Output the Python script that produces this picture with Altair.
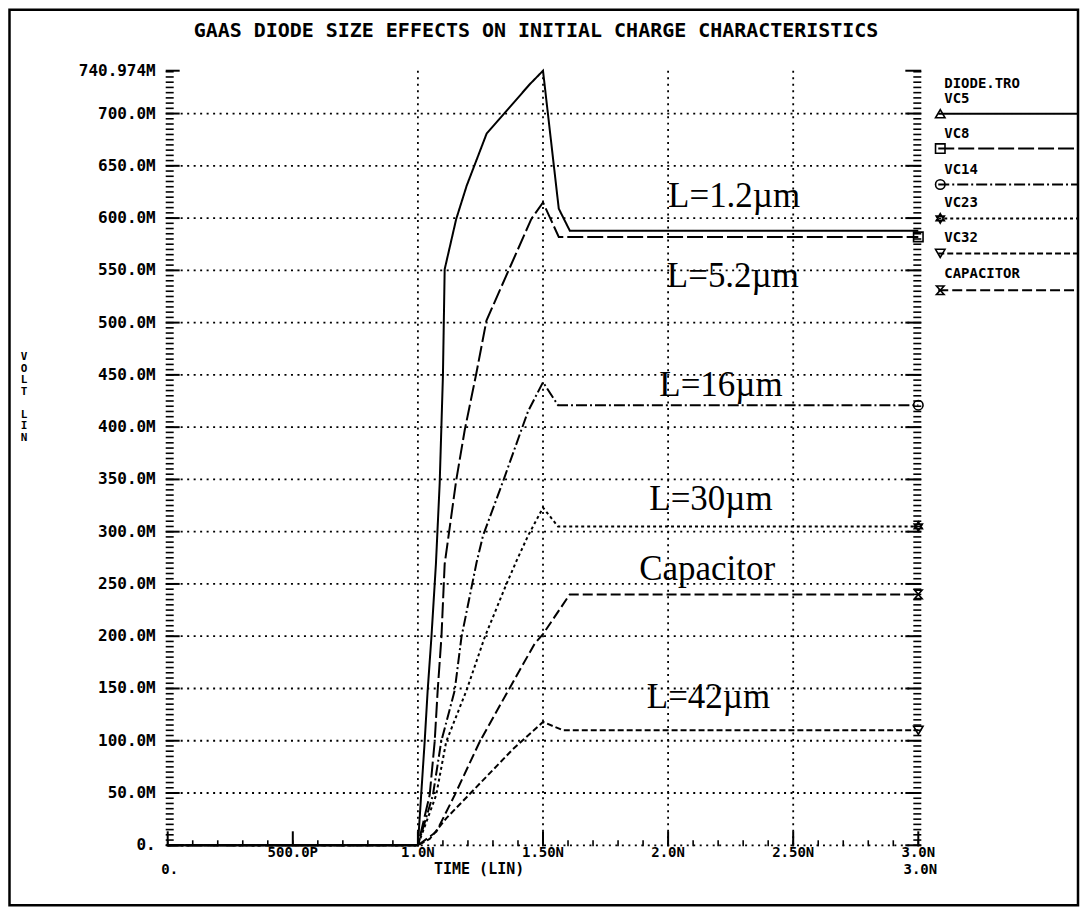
import altair as alt
import pandas as pd

# ---------------- data (time in ns, voltage in mV) ----------------
series = ["VC5", "VC8", "VC14", "VC23", "VC32", "CAPACITOR"]

t_vc5 = [0.0, 1.0, 1.013, 1.027, 1.039, 1.054, 1.072, 1.087, 1.1, 1.107, 1.153, 1.195, 1.275, 1.447, 1.5, 1.563, 1.607, 3.0]
v_vc5 = [0, 0, 48, 99, 148, 199, 269, 346, 449, 551, 599, 631, 681, 728, 740.974, 609, 588, 588]

t_vc8 = [0.0, 1.0, 1.047, 1.067, 1.079, 1.094, 1.107, 1.153, 1.187, 1.234, 1.274, 1.453, 1.5, 1.563, 3.0]
v_vc8 = [0, 0, 48, 99, 148, 199, 269, 349, 397, 452, 502, 599, 615, 582, 582]

t_vc14 = [0.0, 1.0, 1.06, 1.093, 1.147, 1.174, 1.234, 1.26, 1.34, 1.413, 1.44, 1.5, 1.56, 3.0]
v_vc14 = [0, 0, 48, 99, 148, 199, 270, 296, 348, 397, 415, 443, 421, 421]

t_vc23 = [0.0, 1.0, 1.073, 1.113, 1.194, 1.267, 1.354, 1.394, 1.44, 1.5, 1.56, 3.0]
v_vc23 = [0, 0, 48, 99, 148, 199, 250, 272, 296, 323, 305, 305]

t_vc32 = [0.0, 1.0, 1.047, 1.114, 1.207, 1.38, 1.5, 1.58, 3.0]
v_vc32 = [0, 0, 6, 26, 49, 92, 118, 110, 110]

t_cap = [0.0, 1.0, 1.074, 1.147, 1.247, 1.354, 1.467, 1.5, 1.607, 3.0]
v_cap = [0, 0, 13, 48, 99, 145, 193, 202, 240, 240]

y_tick_vals = [0, 50, 100, 150, 200, 250, 300, 350, 400, 450, 500, 550, 600, 650, 700, 740.974]
y_tick_labels = ["0.", "50.0M", "100.0M", "150.0M", "200.0M", "250.0M", "300.0M", "350.0M",
                 "400.0M", "450.0M", "500.0M", "550.0M", "600.0M", "650.0M", "700.0M", "740.974M"]
x_tick_vals = [0.5, 1.0, 1.5, 2.0, 2.5, 3.0]
x_tick_labels = ["500.0P", "1.0N", "1.50N", "2.0N", "2.50N", "3.0N"]
x_tick2_vals = [0.0, 3.0]
x_tick2_labels = ["0.", "3.0N"]
x_grid_vals = [1.0, 1.5, 2.0, 2.5]
y_grid_vals = [0, 50, 100, 150, 200, 250, 300, 350, 400, 450, 500, 550, 600, 650, 700]

ann_text = ["L=1.2\u00b5m", "L=5.2\u00b5m", "L=16\u00b5m", "L=30\u00b5m", "Capacitor", "L=42\u00b5m"]
ann_t = [2.0, 1.995, 1.965, 1.925, 1.885, 1.915]
ann_v = [611, 534, 430, 321, 254, 131]

title_text = "GAAS DIODE SIZE EFFECTS ON INITIAL CHARGE CHARACTERISTICS"
xlabel_text = "TIME (LIN)"
ylabel_letters = ["V", "O", "L", "T", "L", "I", "N"]
ylabel_rows = [0, 1, 2, 3, 5, 6, 7]
legend_head = "DIODE.TRO"

# ---------------- styles ----------------
W, H = 752, 776
MONO = "DejaVu Sans Mono"
dashes = [[1, 0], [16, 4], [11, 3, 2, 3], [3, 3], [6, 3], [10, 4]]
star = "M0,-1L0.87,0.5L-0.87,0.5ZM0,1L0.87,-0.5L-0.87,-0.5Z"
hourglass = "M-0.8,-0.9L0.8,-0.9L-0.8,0.9L0.8,0.9Z"
shapes = ["triangle-up", "square", "circle", star, "triangle-down", hourglass]

xs = alt.Scale(domain=[0, 3], nice=False, zero=False)
ys = alt.Scale(domain=[0, 740.974], nice=False)
dash_scale = alt.Scale(domain=series, range=dashes)
shape_scale = alt.Scale(domain=series, range=shapes)

# ---------------- frames ----------------
all_t = [t_vc5, t_vc8, t_vc14, t_vc23, t_vc32, t_cap]
all_v = [v_vc5, v_vc8, v_vc14, v_vc23, v_vc32, v_cap]
rows = []
for s, ts, vs in zip(series, all_t, all_v):
    for i, (t, v) in enumerate(zip(ts, vs)):
        rows.append({"series": s, "t": t, "v": v, "i": i})
curves = pd.DataFrame(rows)

ends = pd.DataFrame({"series": series[1:], "t": [ts[-1] for ts in all_t[1:]],
                     "v": [vs[-1] for vs in all_v[1:]]})

X = lambda f: alt.X(f, scale=xs, axis=None)
Y = lambda f: alt.Y(f, scale=ys, axis=None)

# grid
hgrid = alt.Chart(pd.DataFrame({"v": y_grid_vals})).mark_rule(
    color="black", strokeWidth=1.8, strokeDash=[2, 4.5]).encode(
    y=Y("v:Q"), x=alt.value(13), x2=alt.value(746))
vgrid = alt.Chart(pd.DataFrame({"t": x_grid_vals})).mark_rule(
    color="black", strokeWidth=1.8, strokeDash=[2, 4.5]).encode(
    x=X("t:Q"), y=alt.value(0), y2=alt.value(H))

# ticks
yminor = [v * 5 for v in range(0, 149)]
ymin_df = pd.DataFrame({"v": yminor})
ymaj_df = pd.DataFrame({"v": y_tick_vals})
left_minor = alt.Chart(ymin_df).mark_rule(color="black", strokeWidth=1.6).encode(
    y=Y("v:Q"), x=alt.value(-2), x2=alt.value(6))
left_major = alt.Chart(ymaj_df).mark_rule(color="black", strokeWidth=2).encode(
    y=Y("v:Q"), x=alt.value(-2), x2=alt.value(12))
right_minor = alt.Chart(ymin_df).mark_rule(color="black", strokeWidth=1.6).encode(
    y=Y("v:Q"), x=alt.value(747), x2=alt.value(755))
right_major = alt.Chart(ymaj_df).mark_rule(color="black", strokeWidth=2).encode(
    y=Y("v:Q"), x=alt.value(739), x2=alt.value(755))
xminor = [k / 10 for k in range(0, 31)]
bot_minor = alt.Chart(pd.DataFrame({"t": xminor})).mark_rule(color="black", strokeWidth=1.6).encode(
    x=X("t:Q"), y=alt.value(H - 5), y2=alt.value(H + 1))
bot_major = alt.Chart(pd.DataFrame({"t": [0.0] + x_tick_vals})).mark_rule(color="black", strokeWidth=2).encode(
    x=X("t:Q"), y=alt.value(H - 14), y2=alt.value(H + 1))

# tick labels
ylab = alt.Chart(pd.DataFrame({"v": y_tick_vals, "lab": y_tick_labels})).mark_text(
    font=MONO, fontSize=16, fontWeight="bold", align="right", baseline="middle").encode(
    y=Y("v:Q"), x=alt.value(-12), text="lab:N")
xlab = alt.Chart(pd.DataFrame({"t": x_tick_vals, "lab": x_tick_labels})).mark_text(
    font=MONO, fontSize=14, fontWeight="bold", align="center", baseline="middle").encode(
    x=X("t:Q"), y=alt.value(H + 8), text="lab:N")
xlab2 = alt.Chart(pd.DataFrame({"t": x_tick2_vals, "lab": x_tick2_labels})).mark_text(
    font=MONO, fontSize=14, fontWeight="bold", align="center", baseline="middle", dx=2).encode(
    x=X("t:Q"), y=alt.value(H + 25), text="lab:N")

base_df = pd.DataFrame({"a": [0]})
xtitle = alt.Chart(base_df).mark_text(
    font=MONO, fontSize=15, fontWeight="bold", align="center", baseline="middle").encode(
    x=alt.value(312), y=alt.value(H + 24), text=alt.value(xlabel_text))
ytitle_df = pd.DataFrame({"ch": ylabel_letters, "row": ylabel_rows})
ytitle_df["py"] = 287 + 11.5 * ytitle_df["row"]
ytitle = alt.Chart(ytitle_df).mark_text(
    font=MONO, fontSize=11, fontWeight="bold", align="center", baseline="middle").encode(
    x=alt.value(-144), y=alt.Y("py:Q", scale=None), text="ch:N")
title = alt.Chart(base_df).mark_text(
    font=MONO, fontSize=20, fontWeight="bold", align="center", baseline="middle").encode(
    x=alt.value(369), y=alt.value(-40), text=alt.value(title_text))
frame = alt.Chart(base_df).mark_rect(fill=None, stroke="black", strokeWidth=2.5).encode(
    x=alt.value(-158.5), x2=alt.value(912), y=alt.value(-61), y2=alt.value(836))

# curves
lines = alt.Chart(curves).mark_line(color="black", strokeWidth=2).encode(
    x=X("t:Q"), y=Y("v:Q"), detail="series:N", order="i:Q",
    strokeDash=alt.StrokeDash("series:N", scale=dash_scale, legend=None))
markers = alt.Chart(ends).mark_point(color="black", filled=False, size=90, strokeWidth=1.6, opacity=1).encode(
    x=X("t:Q"), y=Y("v:Q"),
    shape=alt.Shape("series:N", scale=shape_scale, legend=None))

# annotations
ann = alt.Chart(pd.DataFrame({"t": ann_t, "v": ann_v, "txt": ann_text})).mark_text(
    font="Liberation Serif", fontSize=35, align="left", baseline="alphabetic").encode(
    x=X("t:Q"), y=Y("v:Q"), text="txt:N")

# legend (manual, right side)
leg_df = pd.DataFrame({"series": series,
                       "ly": [43, 78, 114, 148, 183, 220],
                       "ty": [28, 63, 99, 133, 168, 204]})
leg_lines = alt.Chart(leg_df).mark_rule(color="black", strokeWidth=2).encode(
    x=alt.value(772), x2=alt.value(912), y=alt.Y("ly:Q", scale=None),
    strokeDash=alt.StrokeDash("series:N", scale=dash_scale, legend=None))
leg_marks = alt.Chart(leg_df).mark_point(color="black", filled=False, size=90, strokeWidth=1.6, opacity=1).encode(
    x=alt.value(774), y=alt.Y("ly:Q", scale=None),
    shape=alt.Shape("series:N", scale=shape_scale, legend=None))
leg_text = alt.Chart(leg_df).mark_text(font=MONO, fontSize=14, fontWeight="bold", align="left",
                                       baseline="middle").encode(
    x=alt.value(778), y=alt.Y("ty:Q", scale=None), text="series:N")
leg_head = alt.Chart(base_df).mark_text(font=MONO, fontSize=14, fontWeight="bold", align="left",
                                        baseline="middle").encode(
    x=alt.value(778), y=alt.value(13), text=alt.value(legend_head))

chart = alt.layer(
    frame, hgrid, vgrid, left_minor, left_major, right_minor, right_major, bot_minor, bot_major,
    ylab, xlab, xlab2, xtitle, ytitle, title,
    lines, markers, ann, leg_lines, leg_marks, leg_text, leg_head
).properties(
    width=W, height=H,
    autosize=alt.AutoSizeParams(type="none"),
    padding={"left": 160, "top": 62, "right": 162, "bottom": 62},
    background="white",
).configure_view(stroke=None)

chart.save("out.html", embed_options={"renderer": "svg", "actions": False})
